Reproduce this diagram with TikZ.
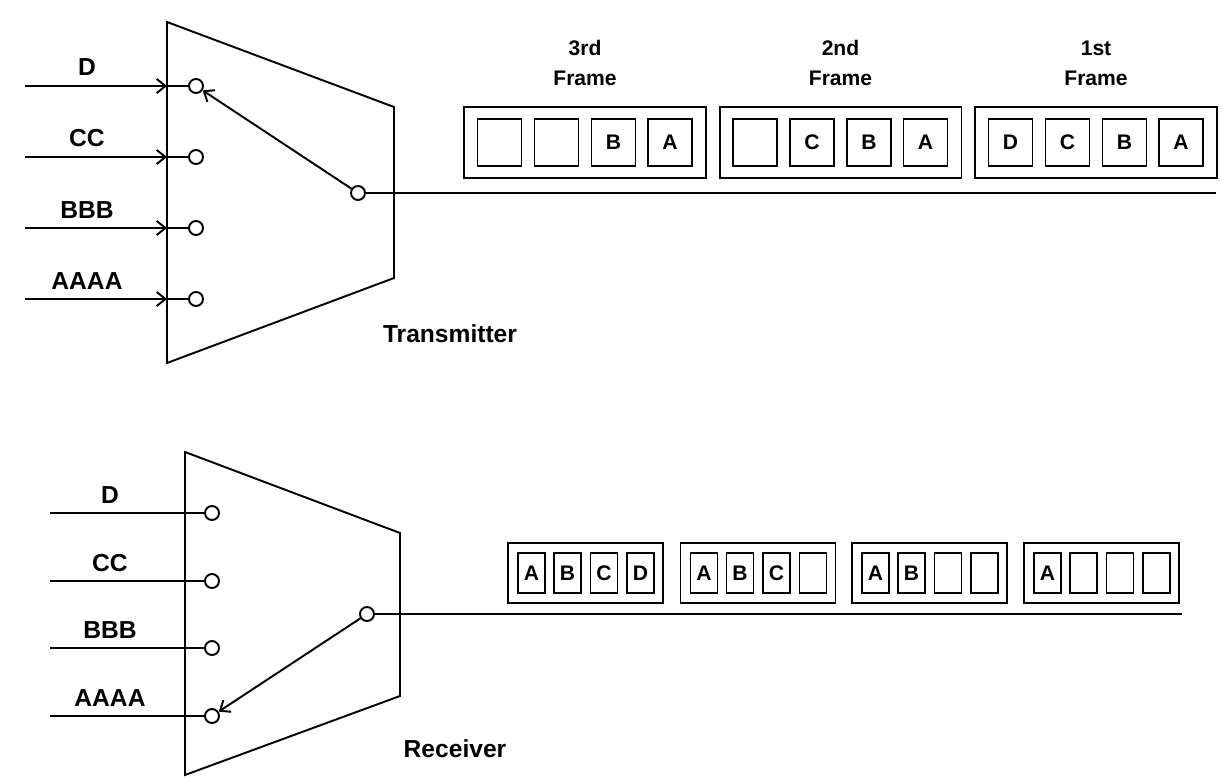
\documentclass[tikz,border=0pt]{standalone}
\usepackage{fontspec}
\setmainfont{Liberation Sans}
\usetikzlibrary{arrows,arrows.meta,positioning,calc,shapes}
\tikzset{>={Straight Barb[length=5pt,width=8pt]}}
\tikzset{
  tap/.style={circle,draw,fill=white,inner sep=0pt,minimum size=0.28cm},
  frm/.style={draw,inner sep=0pt,minimum width=4.84cm,minimum height=1.42cm},
  slot/.style={draw,inner sep=0pt,minimum width=0.88cm,minimum height=0.94cm,font=\fontsize{12}{14}\selectfont\bfseries},
  rfrm/.style={draw,inner sep=0pt,minimum width=3.1cm,minimum height=1.2cm},
  rslot/.style={draw,inner sep=0pt,minimum width=0.54cm,minimum height=0.8cm,font=\fontsize{12}{14}\selectfont\bfseries},
  ttl/.style={align=center,inner sep=0pt,font=\fontsize{12}{17}\selectfont\bfseries}
}

\begin{document}
\begin{tikzpicture}[x=0.02cm,y=-0.02cm,line width=1.1pt,font=\fontsize{14}{16}\selectfont\bfseries]

\useasboundingbox (0,0) rectangle (1222,777);

% transmitter
\draw (167,22) -- (394,107) -- (394,278) -- (167,363) -- cycle;
\node (txname) at (450,334) {Transmitter};

\node (td) at (87,67.5) {D};
\node (tcc) at (87,138.5) {CC};
\node (tbbb) at (87,210) {BBB};
\node (taaaa) at (87,281) {AAAA};

\node [tap] (t1) at (196,86) {};
\node [tap] (t2) at (196,157) {};
\node [tap] (t3) at (196,228) {};
\node [tap] (t4) at (196,299) {};
\node [tap] (tsw) at (358,193) {};

\coordinate (ti1) at (25,86);
\coordinate (ti2) at (25,157);
\coordinate (ti3) at (25,228);
\coordinate (ti4) at (25,299);
\coordinate (te1) at (167,86);
\coordinate (te2) at (167,157);
\coordinate (te3) at (167,228);
\coordinate (te4) at (167,299);
\coordinate (tout) at (1216,193);

\begin{scope}[line width=1.1pt]
\draw[->] (ti1) -- (te1);
\draw[->] (ti2) -- (te2);
\draw[->] (ti3) -- (te3);
\draw[->] (ti4) -- (te4);
\draw (te1) -- (t1);
\draw (te2) -- (t2);
\draw (te3) -- (t3);
\draw (te4) -- (t4);
\draw (tsw) -- (tout);
\draw[->] (tsw) -- (t1);
\end{scope}

% frames on the line
\node [frm] (f3) at (585,142.5) {};
\node [frm] (f2) at (840.5,142.5) {};
\node [frm] (f1) at (1096,142.5) {};
\node [ttl, above=11pt of f3] (f3t) {3rd\\Frame};
\node [ttl, above=11pt of f2] (f2t) {2nd\\Frame};
\node [ttl, above=11pt of f1] (f1t) {1st\\Frame};

\node [slot] (f3a) at (499.5,142.5) {};
\node [slot] (f3b) at (556.5,142.5) {};
\node [slot] (f3c) at (613.5,142.5) {B};
\node [slot] (f3d) at (670,142.5) {A};

\node [slot] (f2a) at (755,142.5) {};
\node [slot] (f2b) at (812,142.5) {C};
\node [slot] (f2c) at (869,142.5) {B};
\node [slot] (f2d) at (925.5,142.5) {A};

\node [slot] (f1a) at (1010.5,142.5) {D};
\node [slot] (f1b) at (1067.5,142.5) {C};
\node [slot] (f1c) at (1124.5,142.5) {B};
\node [slot] (f1d) at (1181,142.5) {A};

% receiver
\draw (185,452) -- (400,533) -- (400,696) -- (185,775) -- cycle;
\node (rxname) at (455,749) {Receiver};

\node (rd) at (110,495) {D};
\node (rcc) at (110,563) {CC};
\node (rbbb) at (110,630) {BBB};
\node (raaaa) at (110,698) {AAAA};

\node [tap] (r1) at (212,513) {};
\node [tap] (r2) at (212,581) {};
\node [tap] (r3) at (212,648) {};
\node [tap] (r4) at (212,716) {};
\node [tap] (rsw) at (367,614) {};

\coordinate (ri1) at (50,513);
\coordinate (ri2) at (50,581);
\coordinate (ri3) at (50,648);
\coordinate (ri4) at (50,716);
\coordinate (rout) at (1182,614);

\begin{scope}[line width=1.1pt]
\draw (ri1) -- (r1);
\draw (ri2) -- (r2);
\draw (ri3) -- (r3);
\draw (ri4) -- (r4);
\draw (rsw) -- (rout);
\draw[->] (rsw) -- (r4);
\end{scope}

\node [rfrm] (g1) at (585.5,573) {};
\node [rfrm] (g2) at (758,573) {};
\node [rfrm] (g3) at (929.5,573) {};
\node [rfrm] (g4) at (1101.5,573) {};

\node [rslot] (g1a) at (531.5,573) {A};
\node [rslot] (g1b) at (567.5,573) {B};
\node [rslot] (g1c) at (604,573) {C};
\node [rslot] (g1d) at (640.5,573) {D};

\node [rslot] (g2a) at (704,573) {A};
\node [rslot] (g2b) at (740,573) {B};
\node [rslot] (g2c) at (776.5,573) {C};
\node [rslot] (g2d) at (813,573) {};

\node [rslot] (g3a) at (875.5,573) {A};
\node [rslot] (g3b) at (911.5,573) {B};
\node [rslot] (g3c) at (948,573) {};
\node [rslot] (g3d) at (984.5,573) {};

\node [rslot] (g4a) at (1047.5,573) {A};
\node [rslot] (g4b) at (1083.5,573) {};
\node [rslot] (g4c) at (1120,573) {};
\node [rslot] (g4d) at (1156.5,573) {};

\end{tikzpicture}
\end{document}
